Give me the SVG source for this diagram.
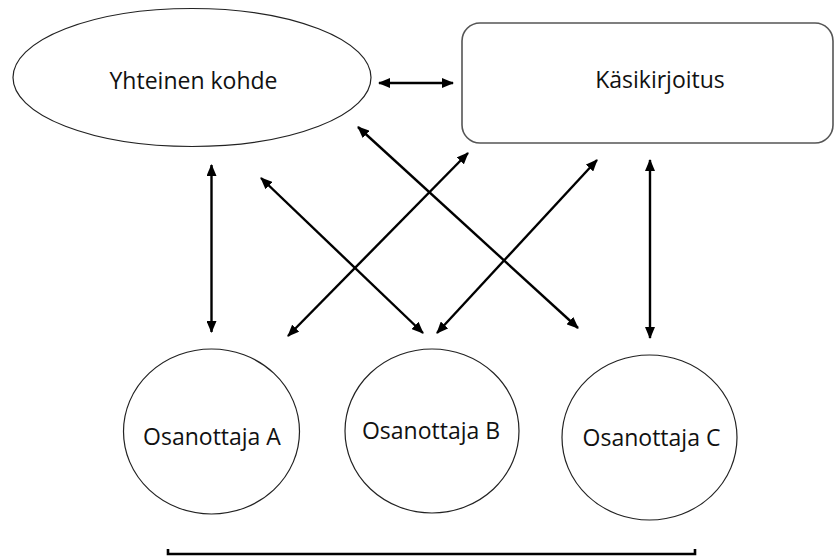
<svg xmlns="http://www.w3.org/2000/svg" width="835" height="558" viewBox="0 0 835 558">
<style>
.shape{fill:#fff;stroke:#222;stroke-width:1.2}
.rect{fill:#fff;stroke:#555;stroke-width:1.6}
.lbl{font-family:"Open Sans","Noto Sans",sans-serif;font-size:23px;fill:#111;text-anchor:middle}
.conn{stroke:#000;stroke-width:2.4;fill:none;marker-start:url(#ah);marker-end:url(#ah)}
</style>
<defs>
<marker id="ah" markerUnits="userSpaceOnUse" markerWidth="12" markerHeight="10" refX="11" refY="5" orient="auto-start-reverse" viewBox="0 0 12 10">
<path d="M0,0 L12,5 L0,10 z" fill="#000"/>
</marker>
</defs>
<rect width="835" height="558" fill="#fff"/>
<g id="yhteinen-kohde">
<ellipse class="shape" cx="192" cy="77.5" rx="179" ry="69"/>
<text class="lbl" x="193.5" y="89">Yhteinen kohde</text>
</g>
<g id="kasikirjoitus">
<rect class="rect" x="462" y="23" width="371" height="120" rx="18" ry="18"/>
<text class="lbl" x="660" y="88">Käsikirjoitus</text>
</g>
<g id="osanottaja-a">
<ellipse class="shape" cx="211.5" cy="431.5" rx="88" ry="82.5"/>
<text class="lbl" x="212" y="445">Osanottaja A</text>
</g>
<g id="osanottaja-b">
<ellipse class="shape" cx="432" cy="431" rx="87" ry="82"/>
<text class="lbl" x="431" y="439">Osanottaja B</text>
</g>
<g id="osanottaja-c">
<ellipse class="shape" cx="649.5" cy="437.5" rx="87.5" ry="82.5"/>
<text class="lbl" x="651.5" y="446">Osanottaja C</text>
</g>
<g id="connectors">
<line class="conn" x1="211.5" y1="165" x2="211.5" y2="332"/>
<line class="conn" x1="650" y1="160" x2="650" y2="338"/>
<line class="conn" x1="379" y1="83" x2="453" y2="83"/>
<line class="conn" x1="261" y1="178" x2="423" y2="333"/>
<line class="conn" x1="358" y1="127" x2="578" y2="328"/>
<line class="conn" x1="468" y1="153" x2="288" y2="336"/>
<line class="conn" x1="597" y1="160" x2="437" y2="333"/>
<path d="M168,549 L168,554 L695,554 L695,549" fill="none" stroke="#000" stroke-width="2.6"/>
</g>
</svg>
